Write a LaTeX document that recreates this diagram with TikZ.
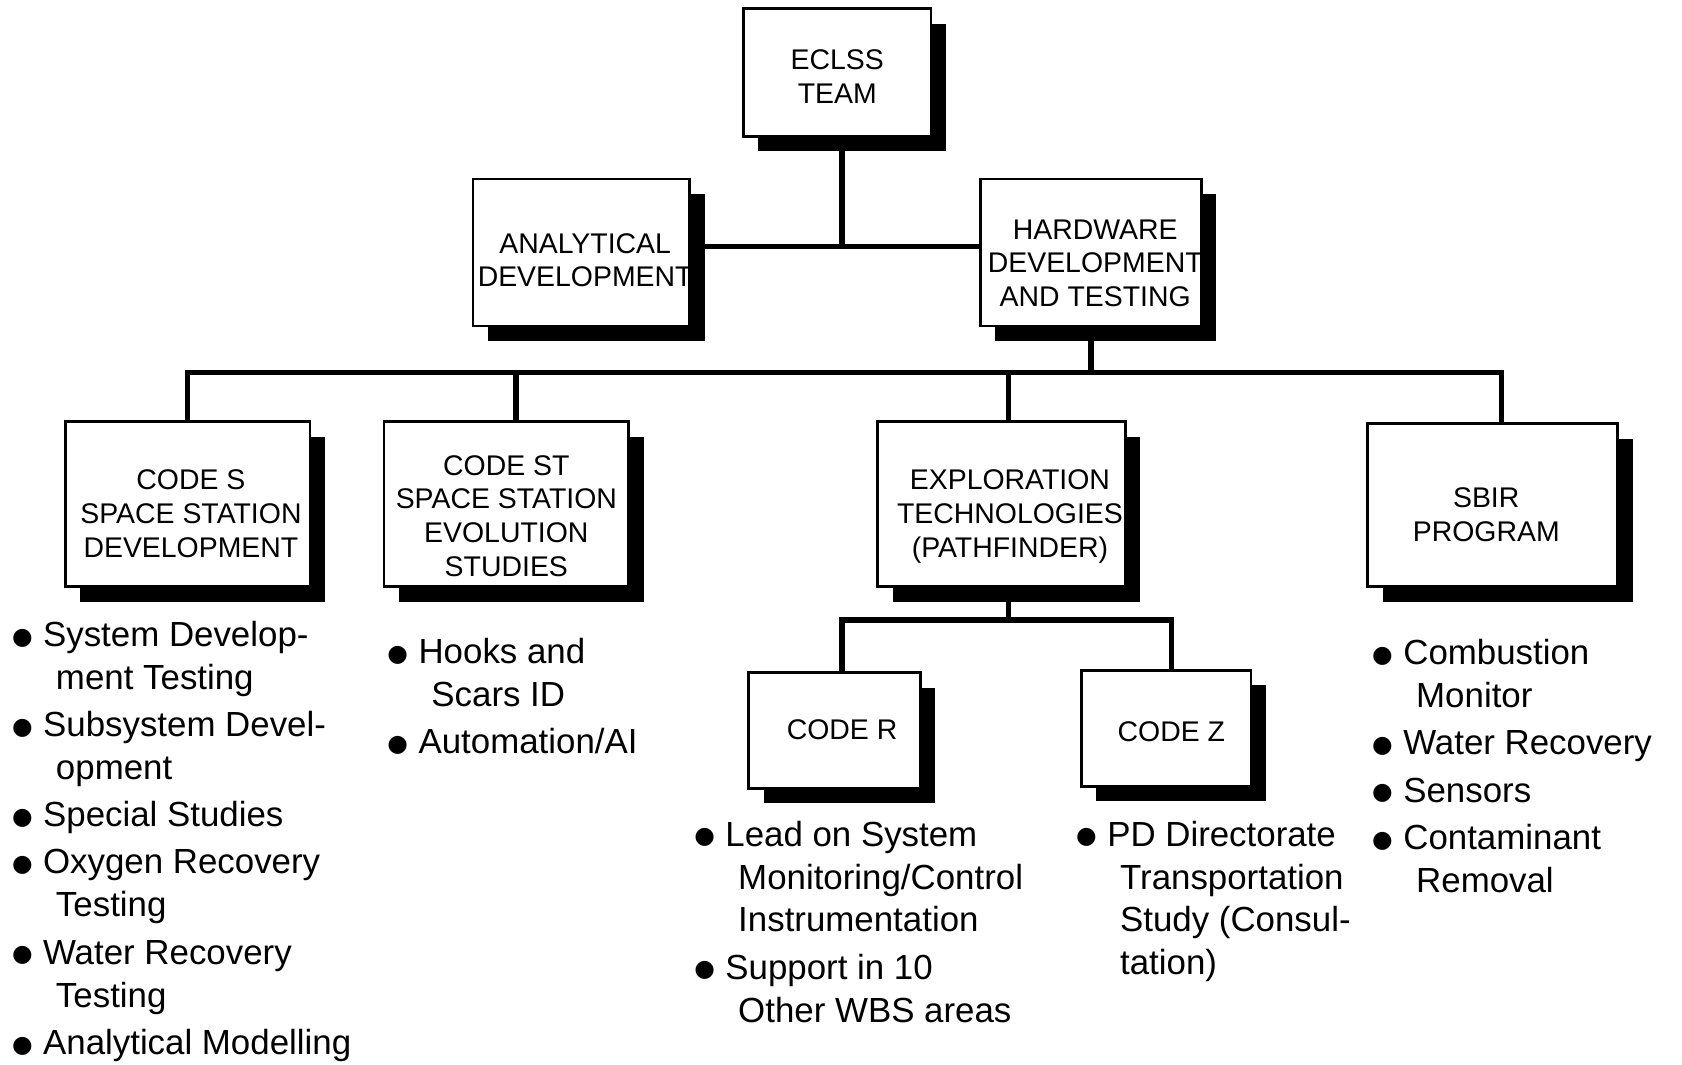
\documentclass[tikz,border=0pt]{standalone}
\usepackage{fontspec}
\setmainfont{Liberation Sans}
\newfontfamily\dejavu{DejaVu Sans}
\usetikzlibrary{shadows}
\newcommand\bdot{\raisebox{2pt}{\dejavu\fontsize{22}{22}\selectfont ●}}
\newcommand\bi[1]{\makebox[29pt][l]{\bdot}#1}
\newcommand\ci[1]{\hspace*{41pt}#1}
\tikzset{
  orgbox/.style={draw, line width=2.4pt, fill=white, inner sep=0pt,
    drop shadow={shadow xshift=14pt, shadow yshift=-14pt, fill=black, opacity=1}},
  boxtext/.style={align=center, inner sep=0pt, font=\fontsize{26.5}{31.5}\selectfont},
  link/.style={line width=5pt, line join=miter},
  blist/.style={anchor=north west, inner sep=0pt, align=left, font=\fontsize{32.5}{40}\selectfont},
}
\begin{document}
\begin{tikzpicture}[x=1pt, y=-1pt]
\useasboundingbox (0,0) rectangle (1568,992);
% boxes
\node[orgbox, minimum width=175pt, minimum height=119pt] (ecl) at (780.5,67.5) {};
\node[orgbox, minimum width=202pt, minimum height=137pt] (ana) at (542,235.5) {};
\node[orgbox, minimum width=206pt, minimum height=137pt] (hw) at (1017,235.5) {};
\node[orgbox, minimum width=228pt, minimum height=154pt] (cs) at (175,470) {};
\node[orgbox, minimum width=228pt, minimum height=154pt] (cst) at (472,470) {};
\node[orgbox, minimum width=231pt, minimum height=154pt] (exp) at (933.5,470) {};
\node[orgbox, minimum width=233pt, minimum height=152pt] (sbir) at (1391.5,471) {};
\node[orgbox, minimum width=160pt, minimum height=108pt] (cr) at (778,681) {};
\node[orgbox, minimum width=158pt, minimum height=108pt] (cz) at (1087,679) {};
% box texts
\node[boxtext] (ecl-t) at ([yshift=-4pt]ecl) {ECLSS\\TEAM};
\node[boxtext] (ana-t) at ([xshift=3.5pt,yshift=-7pt]ana) {ANALYTICAL\\DEVELOPMENT};
\node[boxtext] (hw-t) at ([xshift=4pt,yshift=-10pt]hw) {HARDWARE\\DEVELOPMENT\\AND TESTING};
\node[boxtext] (cs-t) at ([xshift=3pt,yshift=-9pt]cs) {CODE S\\SPACE STATION\\DEVELOPMENT};
\node[boxtext] (cst-t) at ([yshift=-11pt]cst) {CODE ST\\SPACE STATION\\EVOLUTION\\STUDIES};
\node[boxtext] (exp-t) at ([xshift=8pt,yshift=-11.5pt]exp) {EXPLORATION\\TECHNOLOGIES\\(PATHFINDER)};
\node[boxtext] (sbir-t) at ([xshift=-6pt,yshift=-9pt]sbir) {SBIR\\PROGRAM};
\node[boxtext] (cr-t) at ([xshift=7pt,yshift=1pt]cr) {CODE R};
\node[boxtext] (cz-t) at ([xshift=5pt,yshift=-3pt]cz) {CODE Z};
% connectors
\coordinate (j1) at (785,230);
\coordinate (bus) at (1017,347);
\coordinate (bus2) at (940,578);
\draw[link] (j1 |- ecl.south) -- (j1);
\draw[link] (ana.east |- j1) -- (hw.west |- j1);
\draw[link] (hw.south) -- (hw.south |- bus);
\draw[link] (cs.north) |- ([xshift=8.5pt]sbir.north |- bus) -- ([xshift=8.5pt]sbir.north);
\draw[link] ([xshift=9pt]cst.north) -- ([xshift=9pt]cst.north |- bus);
\draw[link] ([xshift=6.5pt]exp.north) -- ([xshift=6.5pt]exp.north |- bus);
\draw[link] ([xshift=6.5pt]exp.south) -- ([xshift=6.5pt]exp.south |- bus2);
\draw[link] ([xshift=7pt]cr.north) |- ([xshift=5pt]cz.north |- bus2) -- ([xshift=5pt]cz.north);
% bullet lists
\node[blist] (cs-l) at (11,579) {\bi{System Develop-}\\\ci{ment Testing}\\[4pt]
  \bi{Subsystem Devel-}\\\ci{opment}\\[4pt]
  \bi{Special Studies}\\[4pt]
  \bi{Oxygen Recovery}\\\ci{Testing}\\[4pt]
  \bi{Water Recovery}\\\ci{Testing}\\[4pt]
  \bi{Analytical Modelling}};
\node[blist] (cst-l) at (361,595) {\bi{Hooks and}\\\ci{Scars ID}\\[4pt]
  \bi{Automation/AI}};
\node[blist] (cr-l) at (647,765) {\bi{Lead on System}\\\ci{Monitoring/Control}\\\ci{Instrumentation}\\[4pt]
  \bi{Support in 10}\\\ci{Other WBS areas}};
\node[blist] (cz-l) at (1003,765) {\bi{PD Directorate}\\\ci{Transportation}\\\ci{Study (Consul-}\\\ci{tation)}};
\node[blist] (sbir-l) at (1279,596) {\bi{Combustion}\\\ci{Monitor}\\[4pt]
  \bi{Water Recovery}\\[4pt]
  \bi{Sensors}\\[4pt]
  \bi{Contaminant}\\\ci{Removal}};
\end{tikzpicture}
\end{document}
